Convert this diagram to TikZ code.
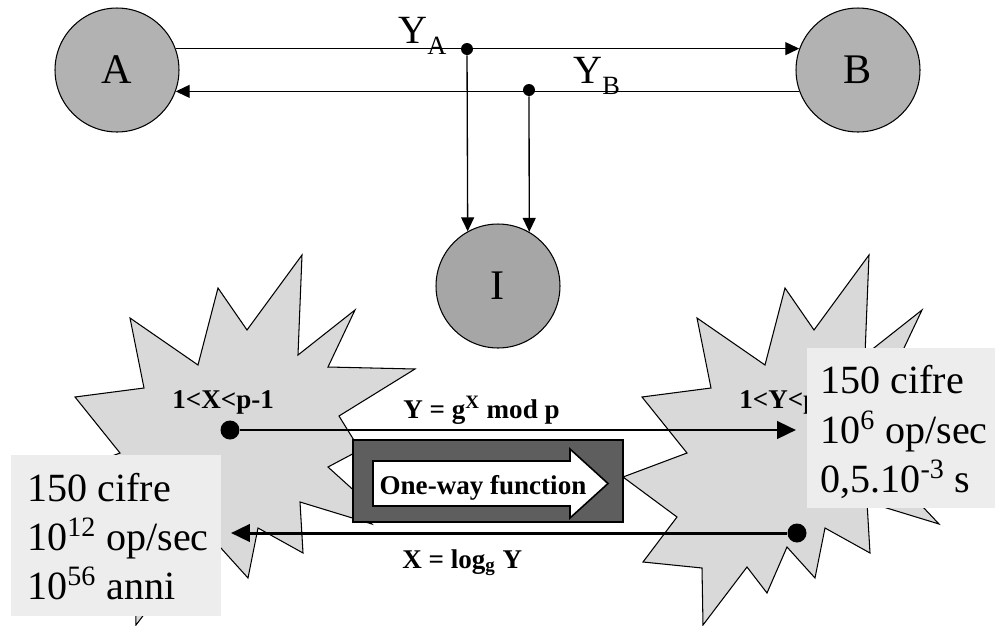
\documentclass[tikz,border=0pt]{standalone}
\usepackage{fontspec}
\setmainfont{Liberation Serif}
\usepackage{tikz}
\usetikzlibrary{arrows.meta,positioning,calc}
\tikzset{
  party/.style={circle,draw=black,line width=0.6pt,fill=black!30,minimum size=2.48cm,
                inner sep=0pt,font=\fontsize{24}{28}\selectfont},
  spy/.style={party,fill=black!35},
  wire/.style={-{Triangle[length=2.8mm,width=2.6mm]},line width=0.75pt},
  tap/.style={circle,fill=black,inner sep=0pt,minimum size=2.4mm},
  bigtap/.style={circle,fill=black,inner sep=0pt,minimum size=3.8mm},
  burst/.style={draw=black,line width=0.6pt,fill=black!15},
  heavy/.style={-{Triangle[length=3.8mm,width=3.5mm]},line width=1.7pt},
  keylabel/.style={font=\fontsize{22.8}{27}\selectfont,inner sep=0pt,anchor=base west},
  eqlabel/.style={font=\fontsize{15.4}{18}\selectfont\bfseries,inner sep=0pt,anchor=base west},
  costbox/.style={fill=black!7,inner sep=0pt,anchor=north west},
  costline/.style={font=\fontsize{22.8}{27}\selectfont,inner sep=0pt,anchor=base west},
  owfbox/.style={draw=black,line width=1.6pt,fill=black!63,inner sep=0pt},
  owfarrow/.style={draw=black,line width=0.9pt,fill=white},
}
\newcommand{\subtag}[1]{\raisebox{-6.5pt}{\fontsize{15}{15}\selectfont #1}}
\begin{document}
\begin{tikzpicture}[x=0.02cm,y=-0.02cm]
  \useasboundingbox (0,0) rectangle (995,626);
  % parties and eavesdropper
  \node[party] (A) at (117,70) {A};
  \node[party] (B) at (858,70) {B};
  \node[spy] (I) at (498,286) {I};
  \draw[wire] (A.20) -- (B.160);
  \draw[wire] (B.200) -- (A.-20);
  \node[tap] (ya) at (467,49) {};
  \node[tap] (yb) at (529,90) {};
  \draw[wire] (ya) -- (I.119);
  \draw[wire] (yb) -- (I.60);
  \node[keylabel] (lya) at (398,43) {Y\subtag{A}};
  \node[keylabel] (lyb) at (573,83) {Y\subtag{B}};
  % the two exponents
  \foreach \dx in {0,567}
    \draw[burst,shift={(\dx,0)}] (302,255) -- (298,355) -- (355,310) -- (328,367)
      -- (415,369) -- (339,416) -- (360,450) -- (328,467) -- (370,505) -- (355,506)
      -- (372,524) -- (300,502) -- (303,553) -- (258,528) -- (248,578) -- (220,547)
      -- (200,593) -- (180,567) -- (136,625) -- (135,568) -- (76,562) -- (110,517)
      -- (56,477) -- (120,453) -- (75,397) -- (144,388) -- (130,318) -- (198,365)
      -- (218,288) -- (247,330) -- cycle;
  \node[eqlabel] (rx) at (172,408) {1<X<p-1};
  \node[eqlabel] (ry) at (739,408) {1<Y<p-1};
  % forward and backward maps
  \node[bigtap] (xdot) at (230,430) {};
  \coordinate (ytip) at (796,430);
  \draw[heavy] (xdot) -- (ytip);
  \node[bigtap] (ydot) at (797,533) {};
  \coordinate (xtip) at (231,533);
  \draw[heavy] (ydot) -- (xtip);
  \node[eqlabel] (fwd) at (403,418) {Y = g\textsuperscript{X} mod p};
  \node[eqlabel] (bwd) at (402,568) {X = log\textsubscript{g} Y};
  \node[owfbox,minimum width=5.4cm,minimum height=1.64cm] (owf) at (488,481) {};
  \draw[owfarrow] (373,461) -- (570,461) -- (570,449) -- (608,483.5) -- (570,518)
    -- (570,506) -- (373,506) -- cycle;
  \node[eqlabel,anchor=base] (owft) at (483,494) {One-way function};
  % cost boxes
  \node[costbox,minimum width=4.2cm,minimum height=3.22cm] (lcost) at (11,455) {};
  \node[costline] (l1) at (27,501) {150 cifre};
  \node[costline] (l2) at (27,550) {10\textsuperscript{12} op/sec};
  \node[costline] (l3) at (27,599) {10\textsuperscript{56} anni};
  \node[costbox,minimum width=3.76cm,minimum height=3.2cm] (rcost) at (807,348) {};
  \node[costline] (r1) at (820,393) {150 cifre};
  \node[costline] (r2) at (820,443) {10\textsuperscript{6} op/sec};
  \node[costline] (r3) at (820,492) {0,5.10\textsuperscript{-3} s};
\end{tikzpicture}
\end{document}
